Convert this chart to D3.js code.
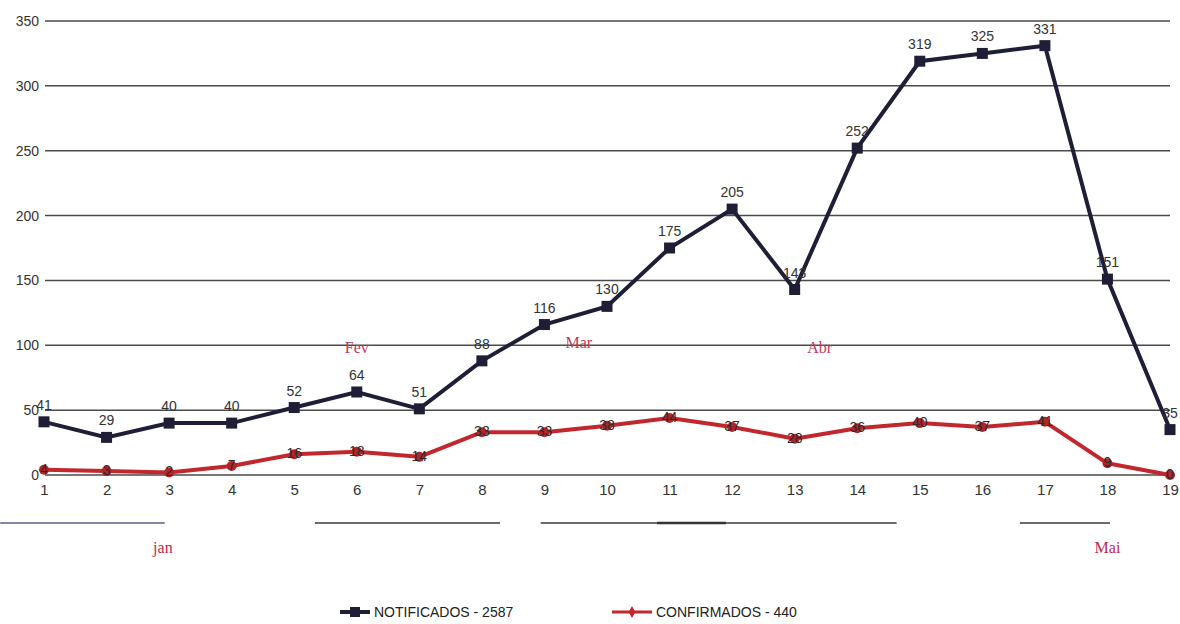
<!DOCTYPE html>
<html><head><meta charset="utf-8">
<script src="https://cdn.jsdelivr.net/npm/d3@7"></script>
<style>
html,body{margin:0;padding:0;background:#fff;}
svg{display:block;}
</style></head>
<body>
<svg id="chart" width="1180" height="624"></svg>
<script>
const weeks = [1,2,3,4,5,6,7,8,9,10,11,12,13,14,15,16,17,18,19];
const notificados = [41,29,40,40,52,64,51,88,116,130,175,205,143,252,319,325,331,151,35];
const confirmados = [4,3,2,7,16,18,14,33,33,38,44,37,28,36,40,37,41,9,0];
const yTicks = [0,50,100,150,200,250,300,350];
const seriesNames = ["NOTIFICADOS - 2587","CONFIRMADOS - 440"];
const monthLabels = [
  {label:"Fev", week:6.0, value:94},
  {label:"Mar", week:9.55, value:98},
  {label:"Abr", week:13.4, value:94},
];
const monthLabelsBelow = [
  {label:"jan", week:2.9},
  {label:"Mai", week:18.0},
];
const bracketSegments = [[0.3,2.93],[5.33,8.29],[8.94,14.63],[16.6,18.04]];
const bracketThick = [10.8,11.9];

const svg = d3.select("#chart");
const x = d3.scaleLinear().domain([1,19]).range([44,1170]);
const y = d3.scaleLinear().domain([0,350]).range([475,21]);

// gridlines
svg.append("g").selectAll("line").data(yTicks).join("line")
  .attr("x1",45).attr("x2",1170)
  .attr("y1",d=>y(d)).attr("y2",d=>y(d))
  .attr("stroke","#4a4a4a").attr("stroke-width",1.5);

// y axis labels
const yAxis = d3.axisLeft(y).tickValues(yTicks).tickSize(0).tickPadding(0);
const gy = svg.append("g").attr("transform","translate(39,0)").call(yAxis);
gy.select(".domain").remove();
gy.selectAll("text").attr("font-family","Liberation Sans, Arial, sans-serif")
  .attr("font-size",14).attr("fill","#333");

// x axis labels
const xAxis = d3.axisBottom(x).tickValues(weeks).tickSize(0).tickPadding(0).tickFormat(d3.format("d"));
const gx = svg.append("g").attr("transform","translate(0,484)").call(xAxis);
gx.select(".domain").remove();
gx.selectAll("text").attr("font-family","Liberation Sans Narrow, Liberation Sans, Arial, sans-serif")
  .attr("font-size",15).attr("fill","#333");

// lines
const lineGen = d3.line().x((d,i)=>x(weeks[i])).y(d=>y(d));
svg.append("path").datum(confirmados).attr("d",lineGen)
  .attr("fill","none").attr("stroke","#c1272d").attr("stroke-width",4).attr("stroke-linejoin","round");
svg.append("path").datum(notificados).attr("d",lineGen)
  .attr("fill","none").attr("stroke","#1e1f36").attr("stroke-width",4).attr("stroke-linejoin","miter");

// markers
svg.append("g").selectAll("circle").data(confirmados).join("circle")
  .attr("cx",(d,i)=>x(weeks[i])).attr("cy",d=>y(d)).attr("r",5)
  .attr("fill","#b3232a");
svg.append("g").selectAll("rect").data(notificados).join("rect")
  .attr("x",(d,i)=>x(weeks[i])-5.5).attr("y",d=>y(d)-5.5)
  .attr("width",11).attr("height",11).attr("fill","#1e1f36");

// labels
svg.append("g").selectAll("text").data(notificados).join("text")
  .attr("x",(d,i)=>x(weeks[i])).attr("y",d=>y(d)-12)
  .attr("text-anchor","middle")
  .attr("font-family","Liberation Sans, Arial, sans-serif").attr("font-size",14).attr("fill","#333")
  .text(d=>d);
svg.append("g").selectAll("text").data(confirmados).join("text")
  .attr("x",(d,i)=>x(weeks[i])).attr("y",d=>y(d)+4)
  .attr("text-anchor","middle")
  .attr("font-family","Liberation Sans, Arial, sans-serif").attr("font-size",14).attr("fill","#2a2a2a")
  .text(d=>d);

// month labels
svg.append("g").selectAll("text").data(monthLabels).join("text")
  .attr("x",d=>x(d.week)).attr("y",d=>y(d.value))
  .attr("text-anchor","middle")
  .attr("font-family","Liberation Serif, Times New Roman, serif").attr("font-size",16).attr("fill","#c0395a")
  .text(d=>d.label);
svg.append("g").selectAll("text").data(monthLabelsBelow).join("text")
  .attr("x",d=>x(d.week)).attr("y",553)
  .attr("text-anchor","middle")
  .attr("font-family","Liberation Serif, Times New Roman, serif").attr("font-size",16).attr("fill","#c0284a")
  .text(d=>d.label);

// bracket lines below axis
svg.append("g").selectAll("line").data(bracketSegments).join("line")
  .attr("x1",d=>x(d[0])).attr("x2",d=>x(d[1]))
  .attr("y1",523).attr("y2",523)
  .attr("stroke",(d,i)=>i===0?"#5a5f8a":"#3a3a3a").attr("stroke-width",1.3);
svg.append("line").attr("x1",x(bracketThick[0])).attr("x2",x(bracketThick[1])).attr("y1",523).attr("y2",523)
  .attr("stroke","#333").attr("stroke-width",2.5);

// legend
const leg = svg.append("g").attr("font-family","Liberation Sans, Arial, sans-serif").attr("font-size",14).attr("fill","#222");
leg.append("line").attr("x1",340).attr("x2",370).attr("y1",612).attr("y2",612).attr("stroke","#1e1f36").attr("stroke-width",4);
leg.append("rect").attr("x",350).attr("y",607).attr("width",10).attr("height",10).attr("fill","#1e1f36");
leg.append("text").attr("x",374).attr("y",617).text(seriesNames[0]);
leg.append("line").attr("x1",612).attr("x2",652).attr("y1",612).attr("y2",612).attr("stroke","#c1272d").attr("stroke-width",3);
leg.append("path").attr("d",d3.symbol(d3.symbolDiamond,40)()).attr("transform","translate(632,612)").attr("fill","#c1272d");
leg.append("text").attr("x",656).attr("y",617).text(seriesNames[1]);
</script>
</body></html>
